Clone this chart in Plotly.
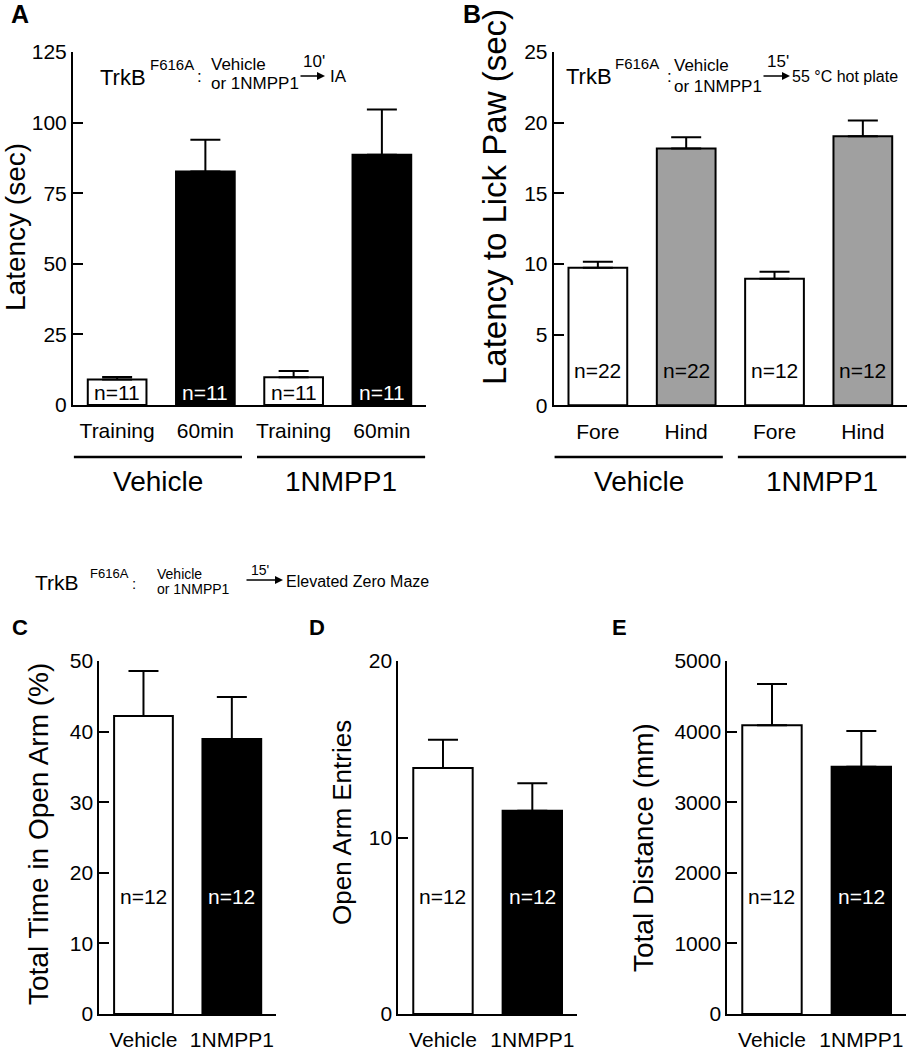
import plotly.graph_objects as go

W, H = 913, 1050
FONT = "Liberation Sans, Arial, Helvetica, sans-serif"

# ---------------- data ----------------
a_labels = ["Training", "60min", "Training", "60min"]
a_values = [9.0, 82.7, 9.8, 88.6]
a_errors = [0.9, 11.2, 2.2, 16.0]
a_n = ["n=11", "n=11", "n=11", "n=11"]
a_groups = ["Vehicle", "1NMPP1"]
a_yticks = [0, 25, 50, 75, 100, 125]

b_labels = ["Fore", "Hind", "Fore", "Hind"]
b_values = [9.74, 18.18, 8.96, 19.03]
b_errors = [0.42, 0.78, 0.49, 1.13]
b_n = ["n=22", "n=22", "n=12", "n=12"]
b_groups = ["Vehicle", "1NMPP1"]
b_yticks = [0, 5, 10, 15, 20, 25]

cde_labels = ["Vehicle", "1NMPP1"]
c_values = [42.2, 38.95]
c_errors = [6.4, 5.95]
c_n = ["n=12", "n=12"]
c_yticks = [0, 10, 20, 30, 40, 50]

d_values = [13.94, 11.52]
d_errors = [1.60, 1.55]
d_n = ["n=12", "n=12"]
d_yticks = [0, 10, 20]

e_values = [4089, 3503]
e_errors = [585, 505]
e_n = ["n=12", "n=12"]
e_yticks = [0, 1000, 2000, 3000, 4000, 5000]

# ---------------- styles ----------------
GRAY = "#a0a0a0"
a_colors = ["white", "black", "white", "black"]
b_colors = ["white", GRAY, "white", GRAY]
cde_colors = ["white", "black"]


def px_x(px):
    return px / W


def px_y(py):
    return 1 - py / H


panels = [
    dict(letter="A", labels=a_labels, values=a_values, errors=a_errors, n=a_n,
         colors=a_colors, yticks=a_yticks, ymax=125, xdom=(73, 426), ydom=(52, 405),
         nfrac=0.035, title="Latency (sec)", tx=16, ty=227, tsize=28,
         groups=a_groups, lx=(20, 14), lsize=25),
    dict(letter="B", labels=b_labels, values=b_values, errors=b_errors, n=b_n,
         colors=b_colors, yticks=b_yticks, ymax=25, xdom=(553.7, 907), ydom=(52, 405.3),
         nfrac=0.098, title="Latency to Lick Paw (sec)", tx=495, ty=197, tsize=33,
         groups=b_groups, lx=(472, 14), lsize=25),
    dict(letter="C", labels=cde_labels, values=c_values, errors=c_errors, n=c_n,
         colors=cde_colors, yticks=c_yticks, ymax=50, xdom=(99.3, 276), ydom=(661, 1014),
         nfrac=0.332, title="Total Time in Open Arm (%)", tx=38, ty=834, tsize=28,
         groups=None, lx=(20, 627), lsize=22),
    dict(letter="D", labels=cde_labels, values=d_values, errors=d_errors, n=d_n,
         colors=cde_colors, yticks=d_yticks, ymax=20, xdom=(398.3, 577), ydom=(661, 1014),
         nfrac=0.332, title="Open Arm Entries", tx=342, ty=823, tsize=26,
         groups=None, lx=(317, 627), lsize=22),
    dict(letter="E", labels=cde_labels, values=e_values, errors=e_errors, n=e_n,
         colors=cde_colors, yticks=e_yticks, ymax=5000, xdom=(727.3, 906), ydom=(661, 1014),
         nfrac=0.332, title="Total Distance (mm)", tx=643, ty=848, tsize=28,
         groups=None, lx=(619, 627), lsize=22),
]

fig = go.Figure()
annotations = []
shapes = []
layout = dict(
    width=W, height=H, autosize=False,
    margin=dict(l=0, r=0, t=0, b=0, pad=0, autoexpand=False),
    paper_bgcolor="white", plot_bgcolor="white",
    showlegend=False,
    font=dict(family=FONT, color="black"),
    bargap=0,
)

for i, p in enumerate(panels, start=1):
    xs = list(range(len(p["values"])))
    xa = "x" if i == 1 else f"x{i}"
    ya = "y" if i == 1 else f"y{i}"
    fig.add_trace(go.Bar(
        x=xs, y=p["values"], width=0.665,
        marker=dict(color=p["colors"], line=dict(color="black", width=2)),
        error_y=dict(type="data", symmetric=False, array=p["errors"],
                     arrayminus=[0] * len(xs), color="black", thickness=2, width=15),
        xaxis=xa, yaxis=ya, hoverinfo="skip",
    ))
    n_cat = len(xs)
    layout["xaxis" if i == 1 else f"xaxis{i}"] = dict(
        domain=[px_x(p["xdom"][0]), px_x(p["xdom"][1])],
        anchor=ya, range=[-0.5, n_cat - 0.5],
        tickmode="array", tickvals=xs, ticktext=p["labels"],
        tickfont=dict(size=21, family=FONT, color="black"),
        showline=True, linecolor="black", linewidth=2,
        ticks="", showgrid=False, zeroline=False, fixedrange=True,
        ticklabelstandoff=6, automargin=False,
    )
    layout["yaxis" if i == 1 else f"yaxis{i}"] = dict(
        domain=[px_y(p["ydom"][1]), px_y(p["ydom"][0])],
        anchor=xa, range=[0, p["ymax"]],
        tickmode="array", tickvals=p["yticks"],
        tickfont=dict(size=21, family=FONT, color="black"),
        showline=True, linecolor="black", linewidth=2,
        ticks="inside", ticklen=10, tickwidth=2, tickcolor="black",
        showgrid=False, zeroline=False, fixedrange=True, automargin=False,
    )
    # n labels inside bars
    for x, txt_, col in zip(xs, p["n"], p["colors"]):
        annotations.append(dict(
            x=x, y=p["nfrac"] * p["ymax"], xref=xa, yref=ya, text=txt_,
            showarrow=False, font=dict(size=21, family=FONT,
                                        color="white" if col == "black" else "black"),
            xanchor="center", yanchor="middle"))
    # y axis title
    annotations.append(dict(
        x=px_x(p["tx"]), y=px_y(p["ty"]), xref="paper", yref="paper",
        text=p["title"], textangle=-90, showarrow=False,
        font=dict(size=p["tsize"], family=FONT, color="black"),
        xanchor="center", yanchor="middle"))
    # panel letter
    annotations.append(dict(
        x=px_x(p["lx"][0]), y=px_y(p["lx"][1]), xref="paper", yref="paper",
        text=f"<b>{p['letter']}</b>", showarrow=False,
        font=dict(size=p["lsize"], family=FONT, color="black"),
        xanchor="center", yanchor="middle"))
    # group lines & labels
    if p["groups"]:
        for g, gname in enumerate(p["groups"]):
            x0 = g * 2 - 0.5 + (0.01 if g == 0 else 0.085)
            x1 = g * 2 + 1.5 - (0.085 if g == 0 else 0.01)
            shapes.append(dict(type="line", xref=xa, yref="paper",
                               x0=x0, x1=x1, y0=px_y(457), y1=px_y(457),
                               line=dict(color="black", width=2.5)))
            annotations.append(dict(
                x=(x0 + x1) / 2, y=px_y(481), xref=xa, yref="paper",
                text=gname, showarrow=False,
                font=dict(size=28, family=FONT, color="black"),
                xanchor="center", yanchor="middle"))


def txt(text, x, y, size, anchor="left"):
    annotations.append(dict(
        x=px_x(x), y=px_y(y), xref="paper", yref="paper", text=text,
        showarrow=False, font=dict(size=size, family=FONT, color="black"),
        xanchor=anchor, yanchor="middle", borderpad=0))


def arrow(x0, x1, y):
    annotations.append(dict(
        x=px_x(x1), y=px_y(y), xref="paper", yref="paper", text="",
        showarrow=True, ax=x0 - x1, ay=0, axref="pixel", ayref="pixel",
        arrowhead=2, arrowsize=1, arrowwidth=1.6, arrowcolor="black"))


# Header of panel A
txt("TrkB", 99, 77, 22)
txt("F616A", 149, 64, 15)
txt(":", 199, 76, 17, "center")
txt("Vehicle", 210, 64, 17)
txt("or 1NMPP1", 210, 84, 17)
txt("10'", 302, 62, 17)
arrow(299, 325, 76)
txt("IA", 329, 76, 17)

# Header of panel B
txt("TrkB", 565, 76, 22)
txt("F616A", 614, 63, 15)
txt(":", 669, 76, 17, "center")
txt("Vehicle", 673, 65, 17)
txt("or 1NMPP1", 673, 86, 17)
txt("15'", 766, 62, 17)
arrow(762, 790, 76)
txt("55 °C hot plate", 791, 76, 16)

# Header of panels C-E
txt("TrkB", 34, 582, 21)
txt("F616A", 89, 573, 13)
txt(":", 134, 583, 15, "center")
txt("Vehicle", 156, 574, 14)
txt("or 1NMPP1", 156, 589, 14)
txt("15'", 250, 570, 14)
arrow(245, 283, 580)
txt("Elevated Zero Maze", 285, 581, 16)

layout["annotations"] = annotations
layout["shapes"] = shapes
fig.update_layout(**layout)

fig.write_html(
    "out.html",
    config={"displayModeBar": False, "staticPlot": True},
    post_script="document.body.style.margin='0';document.body.style.overflow='hidden';",
)
